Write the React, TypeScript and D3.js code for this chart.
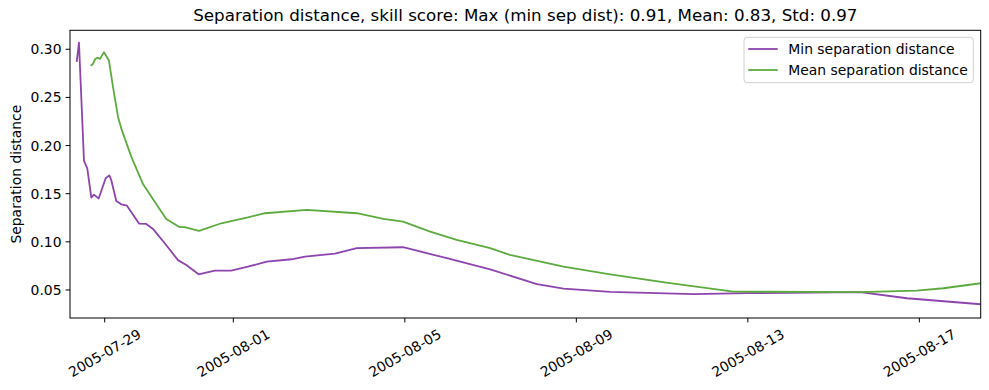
import React, { useEffect, useRef } from 'react';
import * as d3 from 'd3';

// values
const minTimes = [
  '2005-07-28 08:20', '2005-07-28 09:36', '2005-07-28 12:25', '2005-07-28 14:17',
  '2005-07-28 16:30', '2005-07-28 18:00', '2005-07-28 20:38', '2005-07-29 00:33',
  '2005-07-29 02:35', '2005-07-29 03:42', '2005-07-29 06:29', '2005-07-29 09:17',
  '2005-07-29 12:29', '2005-07-29 19:12', '2005-07-29 23:17', '2005-07-30 03:03',
  '2005-07-30 09:36', '2005-07-30 17:02', '2005-07-30 21:42', '2005-07-31 04:34',
  '2005-07-31 13:35', '2005-07-31 22:48', '2005-08-01 08:10', '2005-08-01 18:43',
  '2005-08-02 08:38', '2005-08-02 16:05', '2005-08-03 08:53', '2005-08-03 21:07',
  '2005-08-04 23:00', '2005-08-05 23:31', '2005-08-06 23:46', '2005-08-08 01:55',
  '2005-08-08 16:48', '2005-08-09 18:58', '2005-08-11 17:31', '2005-08-12 23:31',
  '2005-08-15 14:53', '2005-08-16 17:02', '2005-08-18 10:20',
];
const minValues = [
  0.287, 0.307, 0.184, 0.176,
  0.146, 0.149, 0.145, 0.166,
  0.169, 0.164, 0.1425, 0.139,
  0.1376, 0.119, 0.1186, 0.1134,
  0.0985, 0.081, 0.076, 0.0663,
  0.070, 0.070, 0.0742, 0.0794,
  0.0819, 0.0846, 0.0877, 0.0934,
  0.0944, 0.083, 0.0715, 0.056,
  0.0514, 0.048, 0.0456, 0.0467,
  0.0477, 0.0414, 0.0352,
];

const meanTimes = [
  '2005-07-28 16:09', '2005-07-28 17:17', '2005-07-28 18:45', '2005-07-28 20:15',
  '2005-07-28 21:22', '2005-07-28 23:37', '2005-07-29 02:24', '2005-07-29 04:39',
  '2005-07-29 07:26', '2005-07-29 09:36', '2005-07-29 14:53', '2005-07-29 21:26',
  '2005-07-30 04:00', '2005-07-30 10:29', '2005-07-30 18:00', '2005-07-30 20:47',
  '2005-07-31 04:48', '2005-07-31 17:17', '2005-08-01 08:10', '2005-08-01 17:46',
  '2005-08-02 17:02', '2005-08-03 21:07', '2005-08-04 12:00', '2005-08-04 23:00',
  '2005-08-05 14:10', '2005-08-06 05:02', '2005-08-06 23:46', '2005-08-07 10:48',
  '2005-08-08 16:48', '2005-08-09 18:58', '2005-08-11 02:24', '2005-08-12 15:50',
  '2005-08-15 14:53', '2005-08-16 22:34', '2005-08-17 13:26', '2005-08-18 10:20',
];
const meanValues = [
  0.283, 0.2844, 0.290, 0.2913,
  0.290, 0.297, 0.288, 0.261,
  0.230, 0.216, 0.1885, 0.160,
  0.1417, 0.1238, 0.1152, 0.1152,
  0.1113, 0.1193, 0.1255, 0.1297,
  0.1331, 0.1297, 0.1238, 0.121,
  0.1106, 0.102, 0.0934, 0.0864,
  0.0742, 0.0663, 0.0576, 0.0483,
  0.0477, 0.0493, 0.0518, 0.057,
];

const xTickLabels = ['2005-07-29', '2005-08-01', '2005-08-05', '2005-08-09', '2005-08-13', '2005-08-17'];
const yTickValues = [0.05, 0.1, 0.15, 0.2, 0.25, 0.3];
const xLimits = ['2005-07-28 04:35', '2005-08-18 10:20'];
const yLimits = [0.0209, 0.3197];

const seriesNames = ['Min separation distance', 'Mean separation distance'];
const seriesColors = ['#8e44ad', '#5dab3e'];
const title = 'Separation distance, skill score: Max (min sep dist): 0.91, Mean: 0.83, Std: 0.97';

const W = 989, H = 390;
const margin = { left: 70, right: 8.3, top: 30.3, bottom: 72 };
const FONT = '"DejaVu Sans", sans-serif';
const FS = 13.9;

export default function App() {
  const ref = useRef<SVGSVGElement>(null);

  useEffect(() => {
    const svg = d3.select(ref.current);
    svg.selectAll('*').remove();

    const parse = d3.utcParse('%Y-%m-%d %H:%M');
    const parseDay = d3.utcParse('%Y-%m-%d');

    const x = d3.scaleUtc()
      .domain(xLimits.map(s => parse(s) as Date))
      .range([margin.left, W - margin.right]);
    const y = d3.scaleLinear()
      .domain(yLimits)
      .range([H - margin.bottom, margin.top]);

    const series = [
      minTimes.map((t, i) => ({ t: parse(t) as Date, v: minValues[i] })),
      meanTimes.map((t, i) => ({ t: parse(t) as Date, v: meanValues[i] })),
    ];

    const line = d3.line<{ t: Date; v: number }>()
      .x(d => x(d.t))
      .y(d => y(d.v));

    const plot = svg.append('g');
    plot.append('clipPath').attr('id', 'clip')
      .append('rect')
      .attr('x', margin.left).attr('y', margin.top)
      .attr('width', W - margin.left - margin.right)
      .attr('height', H - margin.top - margin.bottom);

    series.forEach((s, i) => {
      plot.append('path')
        .datum(s)
        .attr('d', line)
        .attr('fill', 'none')
        .attr('stroke', seriesColors[i])
        .attr('stroke-width', 1.8)
        .attr('stroke-linejoin', 'round')
        .attr('clip-path', 'url(#clip)');
    });

    // spines
    svg.append('rect')
      .attr('x', margin.left).attr('y', margin.top)
      .attr('width', W - margin.left - margin.right)
      .attr('height', H - margin.top - margin.bottom)
      .attr('fill', 'none')
      .attr('stroke', '#000')
      .attr('stroke-width', 1);

    // x ticks
    const bottom = H - margin.bottom;
    xTickLabels.forEach(lbl => {
      const px = x(parseDay(lbl) as Date);
      svg.append('line')
        .attr('x1', px).attr('x2', px)
        .attr('y1', bottom).attr('y2', bottom + 4.4)
        .attr('stroke', '#000').attr('stroke-width', 1);
      svg.append('text')
        .attr('transform', `translate(${px},${bottom + 35}) rotate(-30)`)
        .attr('text-anchor', 'middle')
        .attr('dominant-baseline', 'central')
        .attr('font-family', FONT)
        .attr('font-size', FS)
        .attr('fill', '#000')
        .text(lbl);
    });

    // y ticks
    yTickValues.forEach(v => {
      const py = y(v);
      svg.append('line')
        .attr('x1', margin.left - 4.4).attr('x2', margin.left)
        .attr('y1', py).attr('y2', py)
        .attr('stroke', '#000').attr('stroke-width', 1);
      svg.append('text')
        .attr('x', margin.left - 8.5)
        .attr('y', py)
        .attr('text-anchor', 'end')
        .attr('dominant-baseline', 'central')
        .attr('font-family', FONT)
        .attr('font-size', FS)
        .attr('fill', '#000')
        .text(d3.format('.2f')(v));
    });

    svg.append('text')
      .attr('transform', `translate(16,${(margin.top + bottom) / 2}) rotate(-90)`)
      .attr('text-anchor', 'middle')
      .attr('dominant-baseline', 'central')
      .attr('font-family', FONT)
      .attr('font-size', FS)
      .text('Separation distance');

    svg.append('text')
      .attr('x', (margin.left + W - margin.right) / 2)
      .attr('y', 21)
      .attr('text-anchor', 'middle')
      .attr('font-family', FONT)
      .attr('font-size', 16.7)
      .text(title);

    // legend
    const lg = svg.append('g');
    lg.append('rect')
      .attr('x', 744).attr('y', 37.3)
      .attr('width', 229.3).attr('height', 45.4)
      .attr('rx', 3)
      .attr('fill', '#fff').attr('fill-opacity', 0.8)
      .attr('stroke', '#d0d0d0').attr('stroke-width', 1);
    seriesNames.forEach((name, i) => {
      const ly = 49 + i * 21;
      lg.append('line')
        .attr('x1', 748.3).attr('x2', 777.7)
        .attr('y1', ly).attr('y2', ly)
        .attr('stroke', seriesColors[i]).attr('stroke-width', 1.8);
      lg.append('text')
        .attr('x', 788.3).attr('y', ly)
        .attr('dominant-baseline', 'central')
        .attr('font-family', FONT)
        .attr('font-size', FS)
        .text(name);
    });
  }, []);

  return (
    <svg ref={ref} width={W} height={H}
      style={{ position: 'absolute', left: 0, top: 0, background: '#fff' }} />
  );
}
